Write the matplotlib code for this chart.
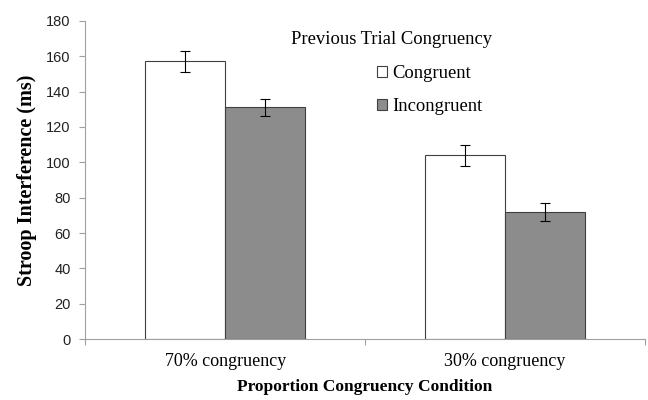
import matplotlib.pyplot as plt
import numpy as np

conditions = ['70% congruency', '30% congruency']
congruent = [157, 104]
congruent_err = [6, 6]
incongruent = [131, 72]
incongruent_err = [5, 5]
yticks = [0, 20, 40, 60, 80, 100, 120, 140, 160, 180]

fig = plt.figure(figsize=(6.48, 4), dpi=100)
ax = fig.add_axes([0.1317, 0.152, 0.8633, 0.796])

x = np.arange(len(conditions))
w = 0.286
err_kw = dict(ecolor='black', elinewidth=0.8, capsize=3.5, capthick=0.8)
ax.bar(x - w / 2, congruent, w, yerr=congruent_err, color='white',
       edgecolor='#404040', linewidth=0.8, error_kw=err_kw, label='Congruent')
ax.bar(x + w / 2, incongruent, w, yerr=incongruent_err, color='#8c8c8c',
       edgecolor='#404040', linewidth=0.8, error_kw=err_kw, label='Incongruent')

ax.set_xlim(-0.5, len(conditions) - 0.5)
ax.set_ylim(0, 180)
ax.set_yticks(yticks)
ax.set_yticklabels([str(t) for t in yticks], family='Liberation Sans', fontsize=10.5,
                   color='#222222')

ax.set_xticks(x)
ax.set_xticklabels(conditions, family='Liberation Serif', fontsize=13)
ax.tick_params(axis='x', length=0, pad=10)
ax.set_xticks(np.arange(-0.5, len(conditions)), minor=True)
ax.tick_params(axis='x', which='minor', length=4, color='#a0a0a0', width=0.8)
ax.tick_params(axis='y', length=4.5, color='#a0a0a0', width=0.8, pad=6)

for s in ['top', 'right']:
    ax.spines[s].set_visible(False)
for s in ['left', 'bottom']:
    ax.spines[s].set_color('#a0a0a0')
    ax.spines[s].set_linewidth(0.8)

ax.set_ylabel('Stroop Interference (ms)', family='Liberation Serif',
              fontweight='bold', fontsize=14.5)
ax.yaxis.label.set_va('center')
ax.yaxis.set_label_coords(-0.104, 0.5)
ax.set_xlabel('Proportion Congruency Condition', family='Liberation Serif',
              fontweight='bold', fontsize=12.5)
ax.xaxis.label.set_va('center')
ax.xaxis.set_label_coords(0.5, -0.151)

fig.text(392 / 648, 1 - 40 / 400, 'Previous Trial Congruency', ha='center',
         va='center', family='Liberation Serif', fontsize=13.4)
ax.legend(loc='upper left', bbox_to_anchor=(377 / 648, 1 - 65 / 400),
          bbox_transform=fig.transFigure, frameon=False, borderpad=0,
          borderaxespad=0, prop={'family': 'Liberation Serif', 'size': 13.4},
          handlelength=0.55, handleheight=0.55, handletextpad=0.25,
          labelspacing=0.88)

fig.savefig('out.png', dpi=100)
